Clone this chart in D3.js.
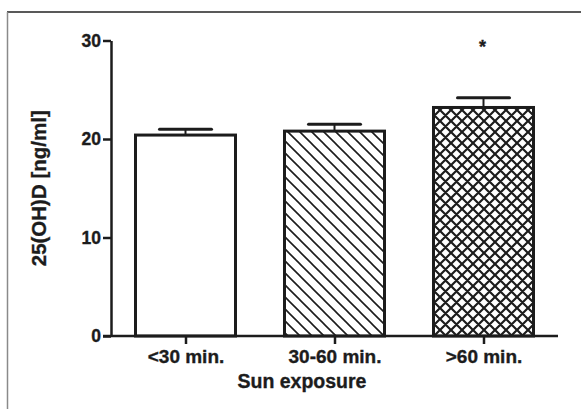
<!DOCTYPE html>
<html>
<head>
<meta charset="utf-8">
<script src="https://cdn.jsdelivr.net/npm/d3@7"></script>
<style>
  body { margin: 0; background: #fff; }
  svg { display: block; font-family: "Liberation Sans", Arial, sans-serif; font-weight: bold; }
  svg text { stroke: #1c1c1c; stroke-width: 0.35px; }
</style>
</head>
<body>
<svg id="chart"></svg>
<script>
const categories = ['<30 min.', '30-60 min.', '>60 min.'];
const means = [20.4, 20.8, 23.2];
const upperErrors = [21.0, 21.5, 24.2];
const fills = ['none', 'hatch', 'cross'];
const significant = [false, false, true];
const yTicks = [0, 10, 20, 30];

const width = 581, height = 409;
const margin = {top: 40.5, right: 23, bottom: 73, left: 111};
const ink = '#1c1c1c';

const svg = d3.select('#chart')
  .attr('width', width)
  .attr('height', height);

// patterns
const defs = svg.append('defs');
const hatch = defs.append('pattern')
  .attr('id', 'hatch')
  .attr('patternUnits', 'userSpaceOnUse')
  .attr('width', 12).attr('height', 12);
hatch.append('path')
  .attr('d', 'M-3,-3 L15,15 M-3,9 L3,15 M9,-3 L15,3')
  .attr('stroke', ink).attr('stroke-width', 1.6);

const cross = defs.append('pattern')
  .attr('id', 'cross')
  .attr('patternUnits', 'userSpaceOnUse')
  .attr('width', 11).attr('height', 11);
cross.append('path')
  .attr('d', 'M-3,-3 L14,14 M-3,8 L3,14 M8,-3 L14,3 M14,-3 L-3,14 M3,-3 L-3,3 M14,8 L8,14')
  .attr('stroke', ink).attr('stroke-width', 2.2);

// frame
svg.append('line')
  .attr('x1', 7).attr('x2', width).attr('y1', 12).attr('y2', 12)
  .attr('stroke', '#222').attr('stroke-width', 1.5);
svg.append('line')
  .attr('x1', 7.5).attr('x2', 7.5).attr('y1', 12).attr('y2', height)
  .attr('stroke', '#8a8a8a').attr('stroke-width', 1.5);

const x = d3.scalePoint()
  .domain(categories)
  .range([margin.left, width - margin.right])
  .padding(0.5);

const y = d3.scaleLinear()
  .domain([0, 30])
  .range([height - margin.bottom, margin.top]);

const barWidth = 100;
const capWidth = 52;

const bars = svg.append('g');
categories.forEach((c, i) => {
  const cx = x(c);
  // error stem + cap
  bars.append('line')
    .attr('x1', cx).attr('x2', cx)
    .attr('y1', y(means[i])).attr('y2', y(upperErrors[i]))
    .attr('stroke', ink).attr('stroke-width', 2);
  bars.append('line')
    .attr('x1', cx - capWidth / 2).attr('x2', cx + capWidth / 2)
    .attr('y1', y(upperErrors[i])).attr('y2', y(upperErrors[i]))
    .attr('stroke', ink).attr('stroke-width', 3).attr('stroke-linecap', 'round');
  bars.append('rect')
    .attr('x', cx - barWidth / 2)
    .attr('y', y(means[i]))
    .attr('width', barWidth)
    .attr('height', y(0) - y(means[i]))
    .attr('fill', fills[i] === 'none' ? '#fff' : `url(#${fills[i]})`)
    .attr('stroke', ink).attr('stroke-width', 3);
  if (significant[i]) {
    bars.append('text')
      .attr('x', cx - 1).attr('y', 53)
      .attr('text-anchor', 'middle')
      .attr('font-size', 18)
      .attr('fill', ink)
      .text('*');
  }
});

// axes
const yAxis = svg.append('g')
  .attr('transform', `translate(${margin.left},0)`)
  .call(d3.axisLeft(y).tickValues(yTicks).tickSize(8).tickPadding(2).tickSizeOuter(0));
const xAxis = svg.append('g')
  .attr('transform', `translate(0,${y(0)})`)
  .call(d3.axisBottom(x).tickSize(8).tickPadding(6).tickSizeOuter(0));

[yAxis, xAxis].forEach(a => {
  a.select('.domain').attr('stroke', ink).attr('stroke-width', 2.5);
  a.selectAll('.tick line').attr('stroke', ink).attr('stroke-width', 2.5);
  a.selectAll('text').attr('fill', ink).attr('font-family', null);
});
yAxis.attr('font-size', 17.5);
xAxis.attr('font-size', 19);
// extend x axis to the y tick length
xAxis.select('.domain').attr('d', `M${margin.left - 8},0H${width - margin.right}`);

// titles
svg.append('text')
  .attr('x', 302).attr('y', 388)
  .attr('text-anchor', 'middle')
  .attr('font-size', 19.5)
  .attr('fill', ink)
  .text('Sun exposure');
svg.append('text')
  .attr('transform', `translate(46,${(y(0) + y(30)) / 2}) rotate(-90)`)
  .attr('text-anchor', 'middle')
  .attr('font-size', 20.5)
  .attr('fill', ink)
  .text('25(OH)D [ng/ml]');
</script>
</body>
</html>
